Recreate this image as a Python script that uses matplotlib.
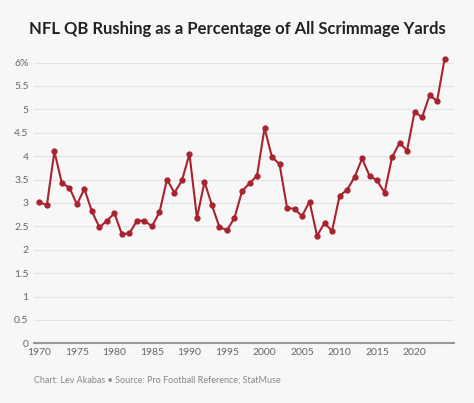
import matplotlib
matplotlib.use("Agg")
import matplotlib.pyplot as plt

plt.rcParams['font.family'] = ['Lato', 'DejaVu Sans']

years = list(range(1970, 2025))
values = [3.02, 2.95, 4.10, 3.42, 3.33, 2.97, 3.30, 2.82, 2.48, 2.62,
          2.78, 2.33, 2.35, 2.62, 2.62, 2.50, 2.80, 3.50, 3.22, 3.48,
          4.05, 2.68, 3.45, 2.95, 2.48, 2.42, 2.68, 3.25, 3.42, 3.58,
          4.60, 3.98, 3.83, 2.90, 2.87, 2.72, 3.03, 2.30, 2.57, 2.40,
          3.15, 3.28, 3.55, 3.95, 3.58, 3.48, 3.22, 3.98, 4.28, 4.12,
          4.95, 4.83, 5.30, 5.18, 6.08]
yticks = [0, 0.5, 1, 1.5, 2, 2.5, 3, 3.5, 4, 4.5, 5, 5.5, 6]
ylabels = ["0", "0.5", "1", "1.5", "2", "2.5", "3", "3.5", "4", "4.5", "5", "5.5", "6%"]
xticks = [1970, 1975, 1980, 1985, 1990, 1995, 2000, 2005, 2010, 2015, 2020]

bg = "#f7f7f7"
fig = plt.figure(figsize=(4.74, 4.03), dpi=100, facecolor=bg)
ax = fig.add_axes([0.072, 0.148, 0.885, 0.72], facecolor=bg)
ax.plot(years, values, color="#a8232e", lw=1.5, marker="o", ms=3.5)
ax.set_xlim(1969.3, 2025.2)
ax.set_ylim(0, 6.2)
ax.set_yticks(yticks)
ax.set_yticklabels(ylabels)
ax.set_xticks(xticks)
ax.grid(axis="y", color="#e2e2e2", lw=0.8)
ax.set_axisbelow(True)
for s in ["top", "right", "left"]:
    ax.spines[s].set_visible(False)
ax.spines["bottom"].set_color("#999999")
ax.spines["bottom"].set_linewidth(1.5)
ax.tick_params(length=0, labelsize=7.5, colors="#666666")
ax.tick_params(axis="y", pad=4)
fig.text(0.5, 0.915, "NFL QB Rushing as a Percentage of All Scrimmage Yards",
         ha="center", fontsize=12, fontweight="bold", color="#222222")
fig.text(0.072, 0.05, "Chart: Lev Akabas • Source: Pro Football Reference; StatMuse",
         fontsize=6.5, color="#888888")
fig.savefig("out.png", dpi=100, facecolor=bg)
